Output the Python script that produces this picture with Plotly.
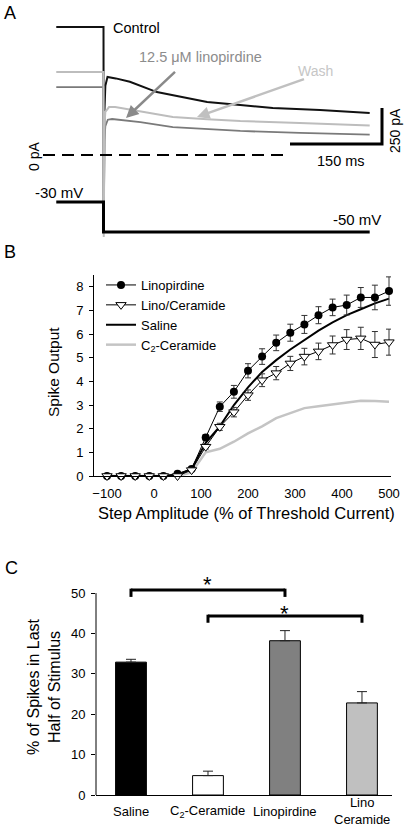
import plotly.graph_objects as go

W, H = 405, 825
FONT = "Liberation Sans, Arial, sans-serif"

# ---------------- Panel A: voltage-clamp traces ----------------
t_control = [-77, 0, 0.4, 1.5, 3, 6.5, 20, 43, 87, 125, 169, 223, 276, 353, 434]
i_control = [889, 889, -540, 300, 480, 542, 532, 509, 437, 403, 368, 347, 326, 312, 292]
t_wash = [-77, 0, 0.4, 1.5, 3, 9, 19, 60, 113, 169, 223, 320, 434]
i_wash = [576, 576, -569, 200, 300, 333, 333, 301, 264, 249, 236, 222, 205]
t_lino = [-77, 0, 0.4, 1.5, 3, 7, 14, 60, 113, 169, 223, 320, 434]
i_lino = [472, 472, -520, 100, 200, 245, 250, 229, 194, 180, 167, 153, 142]
t_cmd = [-77, 0, 0, 434]
v_cmd = [-30, -30, -50, -50]

# ---------------- Panel B: input-output curves ----------------
step_amp = [-100, -70, -40, -10, 20, 50, 80, 110, 140, 170, 200, 230, 260, 290,
            320, 350, 380, 410, 440, 470, 500]
linopirdine = [0, 0, 0, 0, 0, 0.1, 0.3, 1.63, 2.93, 3.56, 4.45, 5.05, 5.63, 6.06,
               6.41, 6.8, 7.13, 7.23, 7.55, 7.55, 7.82]
linopirdine_err = [0, 0, 0, 0, 0, 0.05, 0.08, 0.12, 0.2, 0.27, 0.3, 0.33, 0.33, 0.36,
                   0.38, 0.36, 0.35, 0.42, 0.42, 0.52, 0.6]
lino_ceramide = [0, 0, 0, 0, 0, 0, 0.25, 1.24, 2.08, 2.7, 3.42, 4.05, 4.35, 4.76,
                 5.05, 5.27, 5.54, 5.77, 5.82, 5.56, 5.66]
lino_ceramide_err = [0, 0, 0, 0, 0, 0.03, 0.06, 0.1, 0.15, 0.2, 0.22, 0.27, 0.28, 0.3,
                     0.35, 0.35, 0.38, 0.42, 0.47, 0.55, 0.55]
saline = [0, 0, 0, 0, 0, 0.05, 0.3, 1.4, 2.1, 3.0, 3.75, 4.4, 4.9, 5.35,
          5.75, 6.15, 6.5, 6.8, 7.05, 7.3, 7.5]
c2_ceramide = [0, 0, 0, 0, 0, 0, 0.15, 1.0, 1.15, 1.45, 1.8, 2.1, 2.45, 2.65,
               2.87, 2.95, 3.03, 3.12, 3.18, 3.17, 3.14]
b_yticks = [0, 1, 2, 3, 4, 5, 6, 7, 8]
b_xticks = [-100, 0, 100, 200, 300, 400, 500]

# ---------------- Panel C: % spikes in last half ----------------
c_groups = ["Saline", "C<sub>2</sub>-Ceramide", "Linopirdine", "Lino<br>Ceramide"]
c_values = [32.9, 4.8, 38.2, 22.8]
c_errors = [0.7, 1.1, 2.5, 2.8]
c_colors = ["#000000", "#ffffff", "#808080", "#c0c0c0"]
c_yticks = [0, 10, 20, 30, 40, 50]


def px(x):
    return x / W


def py(y):
    return 1 - y / H


fig = go.Figure()

# Panel A traces
fig.add_trace(go.Scatter(x=t_cmd, y=v_cmd, xaxis="x", yaxis="y2", mode="lines",
                         line=dict(color="black", width=3), showlegend=False,
                         hoverinfo="skip"))
fig.add_trace(go.Scatter(x=t_control, y=i_control, xaxis="x", yaxis="y", mode="lines",
                         line=dict(color="#111111", width=2), showlegend=False))
fig.add_trace(go.Scatter(x=t_lino, y=i_lino, xaxis="x", yaxis="y", mode="lines",
                         line=dict(color="#7a7a7a", width=1.8), showlegend=False))
fig.add_trace(go.Scatter(x=t_wash, y=i_wash, xaxis="x", yaxis="y", mode="lines",
                         line=dict(color="#bdbdbd", width=2), showlegend=False))

# Panel B traces
fig.add_trace(go.Scatter(x=step_amp, y=c2_ceramide, xaxis="x2", yaxis="y3", mode="lines",
                         name="C<sub>2</sub>-Ceramide", legendrank=4,
                         line=dict(color="#c4c4c4", width=2.5), cliponaxis=False))
fig.add_trace(go.Scatter(x=step_amp, y=saline, xaxis="x2", yaxis="y3", mode="lines",
                         name="Saline", legendrank=3,
                         line=dict(color="black", width=2), cliponaxis=False))
fig.add_trace(go.Scatter(x=step_amp, y=linopirdine, xaxis="x2", yaxis="y3",
                         mode="lines+markers", name="Linopirdine", legendrank=1,
                         line=dict(color="black", width=1),
                         marker=dict(symbol="circle", size=8, color="black"),
                         error_y=dict(type="data", array=linopirdine_err, color="#333333",
                                      thickness=1, width=3),
                         cliponaxis=False))
fig.add_trace(go.Scatter(x=step_amp, y=lino_ceramide, xaxis="x2", yaxis="y3",
                         mode="lines+markers", name="Lino/Ceramide", legendrank=2,
                         line=dict(color="black", width=1),
                         marker=dict(symbol="triangle-down", size=9, color="white",
                                     line=dict(color="black", width=1)),
                         error_y=dict(type="data", array=lino_ceramide_err, color="#333333",
                                      thickness=1, width=3),
                         cliponaxis=False))

# Panel C bars
fig.add_trace(go.Bar(x=c_groups, y=c_values, xaxis="x3", yaxis="y4", width=0.4,
                     marker=dict(color=c_colors, line=dict(color="black", width=1)),
                     error_y=dict(type="data", array=c_errors, arrayminus=[0] * 4,
                                  symmetric=False, color="#222222", thickness=1, width=5),
                     showlegend=False))

# scale geometry for panel A (ms per px, pA per px)
MS_PER_PX = 150 / 92.0
PA_PER_PX = 250 / 36.0
t_left = -103.5 * MS_PER_PX
t_right = (W - 103.5) * MS_PER_PX
i_top = 155 * PA_PER_PX
i_bot = -(240 - 155) * PA_PER_PX
v_top = -30 + 202 / 1.5
v_bot = -30 - (240 - 202) / 1.5

bar_t0 = (290 - 103.5) * MS_PER_PX
bar_t1 = bar_t0 + 150
bar_i0 = (155 - 144) * PA_PER_PX
bar_i1 = bar_i0 + 250
dash_t0 = (43 - 103.5) * MS_PER_PX

shapes = [
    dict(type="line", xref="x", yref="y", x0=dash_t0, x1=bar_t0, y0=0, y1=0,
         line=dict(color="black", width=2, dash="12px,7px")),
    dict(type="path", xref="x", yref="y",
         path=f"M{bar_t0},{bar_i0} L{bar_t1},{bar_i0} L{bar_t1},{bar_i1}",
         line=dict(color="black", width=3)),
    # panel C y axis line (0..50)
    dict(type="line", xref="x3 domain", yref="y4", x0=0, x1=0, y0=0, y1=50,
         line=dict(color="black", width=1)),
]

# significance brackets in panel C
brackets = [("Saline", "Linopirdine", 50.74, 49.05), (c_groups[1], c_groups[3], 44.3, 42.65)]
for a, b, ytop, ybot in brackets:
    shapes.append(dict(type="line", xref="x3", yref="y4", x0=a, x1=b, y0=ytop, y1=ytop,
                       line=dict(color="black", width=3)))
    for c in (a, b):
        shapes.append(dict(type="line", xref="x3", yref="y4", x0=c, x1=c, y0=ytop + 0.35,
                           y1=ybot, line=dict(color="black", width=3)))

ann = []


def txt(text, x, y, size=14, color="black", xanchor="left", yanchor="middle", angle=0):
    ann.append(dict(text=text, x=px(x), y=py(y), xref="paper", yref="paper",
                    xanchor=xanchor, yanchor=yanchor, showarrow=False, textangle=angle,
                    font=dict(family=FONT, size=size, color=color)))


txt("A", 2, 13, size=18)
txt("Control", 111, 28, size=14.5)
txt("12.5 μM linopirdine", 137, 57, size=14.5, color="#8c8c8c")
txt("Wash", 296, 71, size=14, color="#c6c6c6")
txt("0 pA", 34, 157, size=14, xanchor="center", angle=-90)
txt("250 pA", 395, 131, size=14, xanchor="center", angle=-90)
txt("150 ms", 341, 161, size=14.5, xanchor="center")
txt("-30 mV", 33, 193, size=15)
txt("-50 mV", 331, 220, size=15)

txt("B", 2, 252, size=18)
txt("Spike Output", 53, 372, size=15.5, xanchor="center", angle=-90)
txt("Step Amplitude (% of Threshold Current)", 246, 513, size=16.5, xanchor="center")

txt("C", 3, 568, size=18)
txt("% of Spikes in Last<br>Half of Stimulus", 44, 687, size=16, xanchor="center",
    angle=-90)

# arrows in panel A
ann.append(dict(x=(126 - 103.5) * MS_PER_PX, y=(155 - 118) * PA_PER_PX, xref="x", yref="y",
                ax=52, ay=-49, text=" ", showarrow=True, arrowhead=2, arrowsize=1,
                arrowwidth=2.5, arrowcolor="#8a8a8a"))
ann.append(dict(x=(197 - 103.5) * MS_PER_PX, y=(155 - 117) * PA_PER_PX, xref="x", yref="y",
                ax=110, ay=-39, text=" ", showarrow=True, arrowhead=2, arrowsize=1,
                arrowwidth=2.5, arrowcolor="#c0c0c0"))

# panel C category labels
for g in c_groups:
    ann.append(dict(text=g, x=g, y=py(811), xref="x3", yref="paper", showarrow=False,
                    xanchor="center", yanchor="middle",
                    font=dict(family=FONT, size=13, color="black")))
# stars
ann.append(dict(text="*", x=c_groups[1], y=50.74, xref="x3", yref="y4", yshift=-9,
                showarrow=False, xanchor="center", yanchor="bottom",
                font=dict(family=FONT, size=22, color="black")))
ann.append(dict(text="*", x=c_groups[2], y=44.3, xref="x3", yref="y4", yshift=-12,
                showarrow=False, xanchor="center", yanchor="bottom",
                font=dict(family=FONT, size=22, color="black")))

axis_font = dict(family=FONT, size=13, color="black")

fig.update_layout(
    width=W, height=H, margin=dict(l=0, r=0, t=0, b=0, autoexpand=False),
    paper_bgcolor="white", plot_bgcolor="rgba(0,0,0,0)",
    font=dict(family=FONT, color="black"),
    showlegend=True,
    legend=dict(x=px(101), y=py(270), xanchor="left", yanchor="top",
                bgcolor="rgba(0,0,0,0)", font=dict(family=FONT, size=13, color="black"),
                tracegroupgap=0, itemwidth=30),
    xaxis=dict(domain=[0, 1], range=[t_left, t_right], visible=False, anchor="y"),
    yaxis=dict(domain=[py(240), 1], range=[i_bot, i_top], visible=False, anchor="x"),
    yaxis2=dict(domain=[py(240), 1], range=[v_bot, v_top], visible=False,
                overlaying="y", anchor="x"),
    xaxis2=dict(domain=[px(94), px(391)],
                range=[-100 - 13 / 0.47, 500 + 2 / 0.47], anchor="y3",
                tickvals=b_xticks, showline=True, linecolor="black", linewidth=1,
                ticks="", showgrid=False, zeroline=False, tickfont=axis_font,
                ticklabelstandoff=5, automargin=False),
    yaxis3=dict(domain=[py(476), py(275)], range=[0, 8.5], anchor="x2",
                tickvals=b_yticks, showline=True, linecolor="black", linewidth=1,
                ticks="outside", ticklen=4, tickcolor="black", showgrid=False,
                zeroline=False, tickfont=axis_font, ticklabelstandoff=3, automargin=False),
    xaxis3=dict(domain=[px(96), px(392)], range=[-0.4545, 3.39], anchor="y4",
                type="category", categoryarray=c_groups, showticklabels=False,
                showline=True, linecolor="black", linewidth=1, ticks="", showgrid=False,
                automargin=False),
    yaxis4=dict(domain=[py(795), py(585)], range=[0, 52], anchor="x3",
                tickvals=c_yticks, showline=False, ticks="outside", ticklen=4,
                tickcolor="black", showgrid=False, zeroline=False, tickfont=axis_font,
                ticklabelstandoff=3, automargin=False),
    shapes=shapes,
    annotations=ann,
)

fig.write_html("out.html", config={"displayModeBar": False},
               post_script="document.body.style.margin='0px';")
